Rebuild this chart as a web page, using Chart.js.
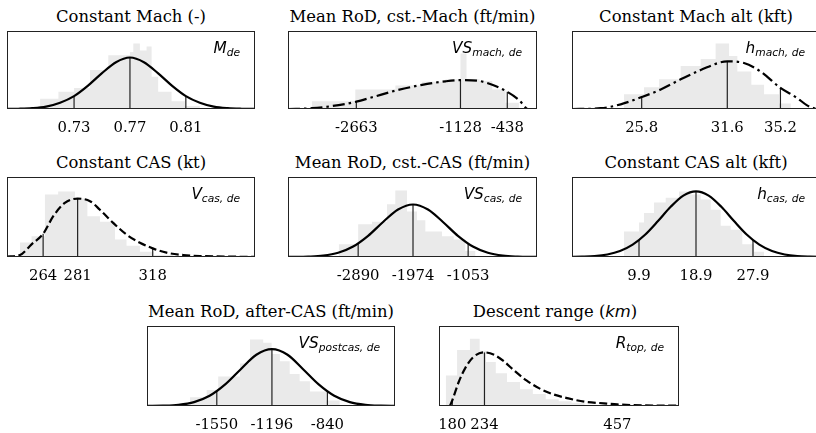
<!DOCTYPE html>
<html><head><meta charset="utf-8">
<script src="https://cdn.jsdelivr.net/npm/chart.js@4/dist/chart.umd.min.js"></script>
<style>
html,body{margin:0;padding:0;background:#fff;overflow:hidden;width:816px;height:433px;position:relative;}
.p{position:absolute;}
.ttl{position:absolute;font-family:'DejaVu Serif';font-size:16.4px;line-height:16.4px;text-align:center;color:#000;white-space:nowrap;}
.ttl i{font-family:'DejaVu Sans';font-style:italic;}
.lab{position:absolute;font-family:'DejaVu Sans';font-style:italic;font-size:15.3px;line-height:15.3px;white-space:nowrap;color:#000;text-align:right;}
.lab sub{font-size:10.7px;vertical-align:baseline;position:relative;top:3.5px;}
</style></head><body>
<script>
// ---------- DATA ----------
// heights are fractions of each panel's plot height
const machTicks = [0.73, 0.77, 0.81];
const machTickLabels = ['0.73', '0.77', '0.81'];
const machTickHeights = [0.165, 0.66, 0.165];
const machHistEdges = [0.7057,0.7188,0.73,0.7414,0.7545,0.77,0.7724,0.7771,0.7819,0.7855,0.7902,0.7998,0.8093,0.82,0.8295];
const machHistValues = [0.04,0.13,0.22,0.27,0.50,0.69,0.73,0.84,0.75,0.80,0.415,0.22,0.10,0.04];
const machCurveX = [0.682,0.69,0.70,0.71,0.72,0.73,0.74,0.75,0.76,0.77,0.78,0.79,0.80,0.81,0.82,0.83,0.84,0.85,0.86];
const machCurveY = [0.001,0.003,0.01,0.03,0.08,0.165,0.30,0.46,0.60,0.66,0.60,0.46,0.30,0.165,0.08,0.03,0.01,0.003,0.001];

const vsMachTicks = [-2663, -1128, -438];
const vsMachTickLabels = ['-2663', '-1128', '-438'];
const vsMachTickHeights = [0.094, 0.37, 0.22];
const vsMachHistEdges = [-3317,-2678,-2087,-1693,-1349,-1128,-1039,-847,-660,-464,-266,-144];
const vsMachHistValues = [0.02,0.10,0.25,0.30,0.35,0.38,0.71,0.38,0.36,0.25,0.08];
const vsMachCurveX = [-3670,-3317,-2923,-2663,-2431,-2087,-1693,-1349,-1128,-857,-660,-438,-266,-169,-144];
const vsMachCurveY = [0,0.01,0.05,0.094,0.15,0.235,0.31,0.355,0.37,0.36,0.31,0.22,0.115,0.02,0];

const hMachTicks = [25.8, 31.6, 35.2];
const hMachTickLabels = ['25.8', '31.6', '35.2'];
const hMachTickHeights = [0.153, 0.61, 0.27];
const hMachHistEdges = [24.60,25.96,26.98,28.44,29.80,30.81,31.72,32.28,33.23,34.09,35.10,35.90,37.02];
const hMachHistValues = [0.03,0.19,0.28,0.38,0.55,0.64,0.84,0.68,0.48,0.31,0.19,0.07];
const hMachCurveX = [21.1,23.02,24.38,25.8,27.09,28.44,29.80,31.6,32.73,33.86,35.2,36.30,36.98,37.43,37.9];
const hMachCurveY = [0,0.01,0.06,0.153,0.25,0.38,0.5,0.61,0.59,0.48,0.27,0.145,0.05,0.013,0.004];

const casTicks = [264, 281, 318];
const casTickLabels = ['264', '281', '318'];
const casTickHeights = [0.29, 0.73, 0.108];
const casHistEdges = [252.6,258.3,264.9,271.4,279.7,285.8,292.0,299.4,305.1,311.7,318.3,328.2,341.3];
const casHistValues = [0.066,0.18,0.26,0.78,0.82,0.73,0.51,0.44,0.22,0.14,0.066,0.025];
const casCurveX = [246.2,252.6,258.3,264,269.0,274.7,281,287.1,292.0,298.5,305.1,311.7,318,324.8,333.0,341.3,357.7,368.4];
const casCurveY = [0.004,0.025,0.158,0.29,0.51,0.676,0.73,0.697,0.59,0.427,0.28,0.178,0.108,0.054,0.025,0.012,0.004,0.001];

const vsCasTicks = [-2890, -1974, -1053];
const vsCasTickLabels = ['-2890', '-1974', '-1053'];
const vsCasTickHeights = [0.17, 0.656, 0.17];
const vsCasHistEdges = [-3215,-2890,-2659,-2408,-2270,-2074,-1907,-1768,-1490,-1294,-1101,-934,-710];
const vsCasHistValues = [0.08,0.16,0.41,0.44,0.66,0.83,0.57,0.46,0.32,0.26,0.22,0.075];
const vsCasCurveX = [-4062,-3974,-3724,-3474,-3224,-2974,-2724,-2474,-2224,-1974,-1724,-1474,-1224,-974,-724,-474,-224,26,97];
const vsCasCurveY = [0.0005,0.001,0.005,0.017,0.053,0.131,0.265,0.438,0.593,0.656,0.593,0.438,0.265,0.131,0.053,0.017,0.005,0.001,0.0005];

const hCasTicks = [9.9, 18.9, 27.9];
const hCasTickLabels = ['9.9', '18.9', '27.9'];
const hCasTickHeights = [0.21, 0.82, 0.21];
const hCasHistEdges = [7.53,9.9,10.69,12.27,14.12,16.22,18.06,19.64,21.22,22.80,24.38,26.21,28.06,29.64,31.74];
const hCasHistValues = [0.19,0.32,0.43,0.55,0.68,0.74,0.82,0.78,0.72,0.59,0.39,0.34,0.16,0.066];
const hCasCurveX = [-1.1,0.9,2.9,4.9,6.9,8.9,10.9,12.9,14.9,16.9,18.9,20.9,22.9,24.9,26.9,28.9,30.9,32.9,34.9,36.9,38.9];
const hCasCurveY = [0.001,0.004,0.011,0.031,0.074,0.154,0.281,0.449,0.627,0.767,0.82,0.767,0.627,0.449,0.281,0.154,0.074,0.031,0.011,0.004,0.001];

const vsPostTicks = [-1550, -1196, -840];
const vsPostTickLabels = ['-1550', '-1196', '-840'];
const vsPostTickHeights = [0.18, 0.71, 0.18];
const vsPostHistEdges = [-1722,-1615,-1541,-1401,-1337,-1252,-1198,-1145,-1082,-1018,-952,-845,-761,-674];
const vsPostHistValues = [0.04,0.11,0.2,0.37,0.53,0.83,0.79,0.65,0.56,0.40,0.31,0.18,0.07];
const vsPostCurveX = [-1996,-1896,-1796,-1696,-1596,-1496,-1396,-1296,-1196,-1096,-996,-896,-796,-696,-596,-496,-396];
const vsPostCurveY = [0.001,0.004,0.015,0.049,0.128,0.27,0.46,0.64,0.71,0.64,0.46,0.27,0.128,0.049,0.015,0.004,0.001];

const rangeTicks = [180, 234, 457];
const rangeTickLabels = ['180', '234', '457'];
const rangeTickHeights = [0.07, 0.67, 0.02];
const rangeHistEdges = [169.0,188.0,209.6,225.9,236.7,253.0,271.8,293.6,315.2,336.8,358.6,380.2,401.8,445.2];
const rangeHistValues = [0.033,0.38,0.70,0.84,0.69,0.55,0.41,0.30,0.21,0.15,0.085,0.06,0.04];
const rangeCurveX = [176,180,190.8,201.5,215.0,234,250.2,266.5,282.8,304.4,326.1,347.7,374.8,401.8,434.3,457,499.3,559];
const rangeCurveY = [0,0.07,0.30,0.47,0.61,0.67,0.64,0.56,0.45,0.32,0.22,0.15,0.095,0.054,0.033,0.02,0.008,0.004];

// ---------- LAYOUT / STYLE ----------
const SOLID = [], DASH = [8, 3.5], DASHDOT = [12, 4, 2.5, 4];
const panels = [
  {title:'Constant Mach (-)', label:'M<sub>de</sub>', box:[7,31,248,78], xr:[0.682,0.8595], dash:SOLID,
   ticks:machTicks, tl:machTickLabels, th:machTickHeights, he:machHistEdges, hv:machHistValues, cx:machCurveX, cy:machCurveY},
  {title:'Mean RoD, cst.-Mach (ft/min)', label:'VS<sub>mach, de</sub>', box:[288,31,249,78], xr:[-3670,0], dash:DASHDOT,
   ticks:vsMachTicks, tl:vsMachTickLabels, th:vsMachTickHeights, he:vsMachHistEdges, hv:vsMachHistValues, cx:vsMachCurveX, cy:vsMachCurveY},
  {title:'Constant Mach alt (kft)', label:'h<sub>mach, de</sub>', box:[572,31,248,78], xr:[21.08,37.88], dash:DASHDOT,
   ticks:hMachTicks, tl:hMachTickLabels, th:hMachTickHeights, he:hMachHistEdges, hv:hMachHistValues, cx:hMachCurveX, cy:hMachCurveY},
  {title:'Constant CAS (kt)', label:'V<sub>cas, de</sub>', box:[7,177,248,80], xr:[246.2,368.4], dash:DASH,
   ticks:casTicks, tl:casTickLabels, th:casTickHeights, he:casHistEdges, hv:casHistValues, cx:casCurveX, cy:casCurveY},
  {title:'Mean RoD, cst.-CAS (ft/min)', label:'VS<sub>cas, de</sub>', box:[288,177,249,80], xr:[-4062,97], dash:SOLID,
   ticks:vsCasTicks, tl:vsCasTickLabels, th:vsCasTickHeights, he:vsCasHistEdges, hv:vsCasHistValues, cx:vsCasCurveX, cy:vsCasCurveY},
  {title:'Constant CAS alt (kft)', label:'h<sub>cas, de</sub>', box:[572,177,248,80], xr:[-0.68,38.48], dash:SOLID,
   ticks:hCasTicks, tl:hCasTickLabels, th:hCasTickHeights, he:hCasHistEdges, hv:hCasHistValues, cx:hCasCurveX, cy:hCasCurveY},
  {title:'Mean RoD, after-CAS (ft/min)', label:'VS<sub>postcas, de</sub>', box:[147,326,248,80], xr:[-1998,-406], dash:SOLID,
   ticks:vsPostTicks, tl:vsPostTickLabels, th:vsPostTickHeights, he:vsPostHistEdges, hv:vsPostHistValues, cx:vsPostCurveX, cy:vsPostCurveY},
  {title:'Descent range (<i>km</i>)', label:'R<sub>top, de</sub>', box:[431,326,248,80], xr:[157.7,560.4], dash:DASH,
   ticks:rangeTicks, tl:rangeTickLabels, th:rangeTickHeights, he:rangeHistEdges, hv:rangeHistValues, cx:rangeCurveX, cy:rangeCurveY}
];

Chart.defaults.color = '#000';
Chart.defaults.font.family = "'DejaVu Serif'";
Chart.defaults.font.size = 14;
const PAD = 3, XH = 32;

const framePlugin = {
  id: 'frame',
  afterDatasetsDraw(chart) {
    const a = chart.chartArea, ctx = chart.ctx;
    ctx.save();
    ctx.strokeStyle = '#222';
    ctx.lineWidth = 1;
    ctx.strokeRect(Math.round(a.left) + 0.5, Math.round(a.top) + 0.5,
                   Math.round(a.right - a.left) - 1, Math.round(a.bottom - a.top) - 1);
    ctx.restore();
  }
};

panels.forEach(p => {
  const [fl, ft, fw, fh] = p.box;
  const t = document.createElement('div');
  t.className = 'ttl';
  t.style.left = fl + 'px'; t.style.width = fw + 'px'; t.style.top = (ft - 22.4) + 'px';
  t.innerHTML = p.title;
  document.body.appendChild(t);

  const wrap = document.createElement('div');
  wrap.className = 'p';
  const cw = fw + 2 * PAD, ch = fh + PAD + XH;
  wrap.style.left = (fl - PAD) + 'px'; wrap.style.top = (ft - PAD) + 'px';
  wrap.style.width = cw + 'px'; wrap.style.height = ch + 'px';
  const cv = document.createElement('canvas');
  cv.width = cw; cv.height = ch; cv.style.width = cw + 'px'; cv.style.height = ch + 'px';
  wrap.appendChild(cv);
  document.body.appendChild(wrap);

  const lab = document.createElement('div');
  lab.className = 'lab';
  lab.style.right = (816 - (fl + fw - 15)) + 'px';
  lab.style.top = (ft + 9.6) + 'px';
  lab.innerHTML = p.label;
  document.body.appendChild(lab);

  const histData = p.he.map((e, i) => ({x: e, y: i < p.hv.length ? p.hv[i] : 0}));
  const curveData = p.cx.map((x, i) => ({x: x, y: p.cy[i]}));
  const datasets = [{
    data: histData, stepped: 'after', fill: 'origin', backgroundColor: '#eaeaea',
    borderColor: 'rgba(0,0,0,0)', borderWidth: 0, pointRadius: 0, order: 3
  }];
  p.ticks.forEach((v, i) => {
    datasets.push({data: [{x: v, y: 0}, {x: v, y: p.th[i]}], borderColor: '#222', borderWidth: 1.2,
      pointRadius: 0, fill: false, order: 1});
  });
  datasets.push({data: curveData, borderColor: '#000', borderWidth: 2.2, borderDash: p.dash,
    pointRadius: 0, fill: false, cubicInterpolationMode: 'monotone', order: 0});

  new Chart(cv, {
    type: 'line',
    data: {datasets},
    options: {
      responsive: false, animation: false, devicePixelRatio: 1,
      layout: {padding: {left: PAD, right: PAD, top: PAD, bottom: 0}},
      plugins: {legend: {display: false}, tooltip: {enabled: false}},
      scales: {
        x: {
          type: 'linear', min: p.xr[0], max: p.xr[1],
          afterBuildTicks: s => { s.ticks = p.ticks.map(v => ({value: v})); },
          afterFit: s => { s.height = XH; },
          grid: {display: false, drawTicks: false}, border: {display: false},
          ticks: {autoSkip: false, maxRotation: 0, padding: 10, color: '#000',
                  font: {family: "'DejaVu Serif'", size: 14.8},
                  callback: (v, i) => p.tl[i]}
        },
        y: {display: false, min: 0, max: 1}
      }
    },
    plugins: [framePlugin]
  });
});
</script>
</body></html>
